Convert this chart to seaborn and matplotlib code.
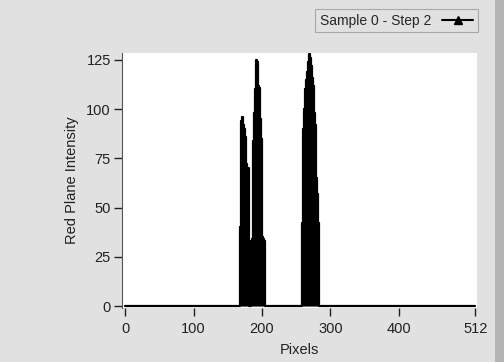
"""Red plane intensity profile (LabVIEW style waveform graph)."""

import matplotlib

matplotlib.use("Agg")

import matplotlib.pyplot as plt
from matplotlib.lines import Line2D
from matplotlib.patches import Rectangle
import numpy as np
import pandas as pd
import seaborn as sns


N_PIXELS = 512
X_TICKS = [0, 100, 200, 300, 400, 512]
Y_TICKS = [0, 25, 50, 75, 100, 125]
LEGEND_LABEL = "Sample 0 - Step 2"

# non-zero stretches of the profile
PEAK_1_START = 168
PEAK_1_VALUES = [39, 40, 94, 96, 95, 92, 90, 88, 86, 72, 71, 70, 70, 69]
PEAK_2_START = 185
PEAK_2_VALUES = [33, 34, 35, 84, 98, 110, 122, 125, 124, 122, 112, 111,
                 105, 95, 85, 84, 35, 34, 34, 33]
PEAK_3_START = 259
PEAK_3_VALUES = [42, 80, 90, 100, 108, 110, 115, 119, 121, 124, 128, 127,
                 126, 122, 120, 116, 112, 105, 98, 92, 80, 65, 57, 45, 42]

BG = "#e1e1e1"


def build_profile() -> pd.DataFrame:
    intensity = np.zeros(N_PIXELS)
    for start, values in [
        (PEAK_1_START, PEAK_1_VALUES),
        (PEAK_2_START, PEAK_2_VALUES),
        (PEAK_3_START, PEAK_3_VALUES),
    ]:
        intensity[start:start + len(values)] = values
    return pd.DataFrame({"pixel": np.arange(N_PIXELS), "intensity": intensity})


def main() -> None:
    sns.set_theme(style="white")
    plt.rcParams["font.family"] = ["Liberation Sans", "DejaVu Sans"]

    data = build_profile()

    fig = plt.figure(figsize=(5.04, 3.62), dpi=100, facecolor=BG)
    fig.patches.append(Rectangle((0.982, 0), 0.018, 1, transform=fig.transFigure,
                                 facecolor="#b4b4b4", edgecolor="none"))
    ax = fig.add_axes([0.242, 0.149, 0.704, 0.705])
    ax.set_facecolor("white")

    sns.lineplot(data=data, x="pixel", y="intensity", color="black",
                 linewidth=1.6, drawstyle="steps-mid", ax=ax)
    ax.fill_between(data["pixel"], data["intensity"], step="mid",
                    color="black", linewidth=0)

    ax.set_xlim(-4.8, 514)
    ax.set_ylim(-1, 128.6)
    ax.set_xticks(X_TICKS)
    ax.set_yticks(Y_TICKS)
    ax.tick_params(axis="both", direction="out", length=6, width=1,
                   colors="#222222", labelsize=10.5, bottom=True, left=True)
    ax.tick_params(axis="x", pad=4)
    ax.tick_params(axis="y", pad=2)
    ax.set_xlabel("Pixels", fontsize=10.5, color="#222222", labelpad=5)
    ax.set_ylabel("Red Plane Intensity", fontsize=10.5, color="#222222", labelpad=5)

    for side in ["top", "right", "bottom"]:
        ax.spines[side].set_visible(False)
    ax.spines["left"].set_color("#555555")
    ax.spines["left"].set_linewidth(0.8)

    handle = Line2D([], [], color="black", linewidth=1.5, marker="^", markersize=6)
    leg = fig.legend([handle], [LEGEND_LABEL], loc="upper right",
                     bbox_to_anchor=(0.962, 0.995), markerfirst=False,
                     frameon=True, fontsize=10, handlelength=2.2,
                     borderpad=0.35, fancybox=False)
    leg.get_frame().set_facecolor(BG)
    leg.get_frame().set_edgecolor("#9a9a9a")
    leg.get_frame().set_linewidth(0.8)

    fig.savefig("out.png", dpi=100, facecolor=BG)
    plt.close(fig)


if __name__ == "__main__":
    main()
